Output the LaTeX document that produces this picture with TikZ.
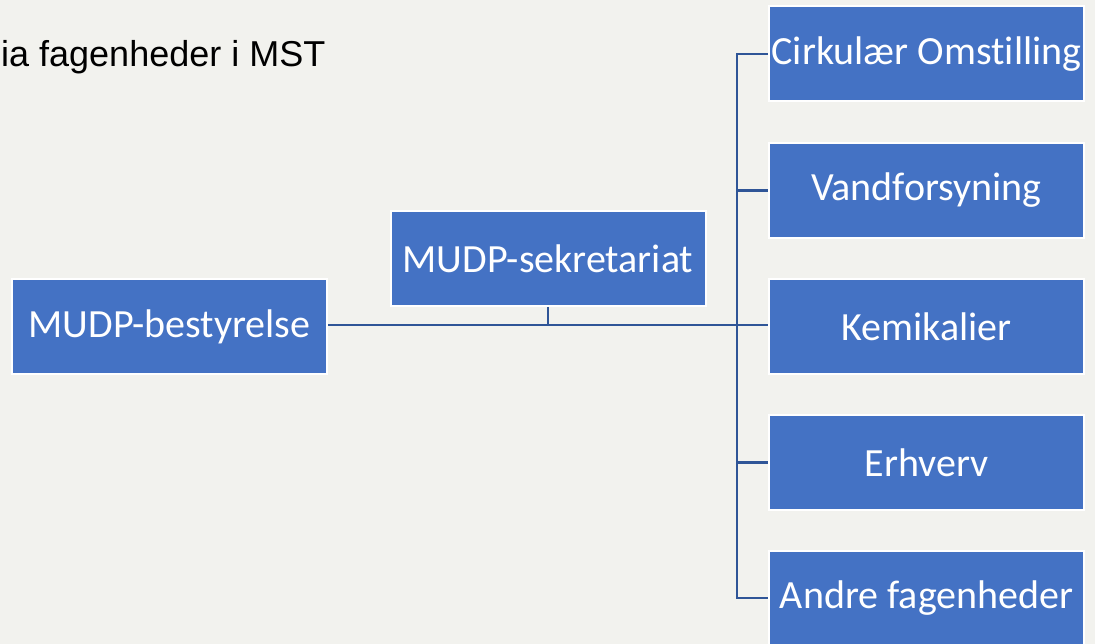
\documentclass[tikz,border=0pt]{standalone}
\usepackage{fontspec}
\setmainfont[Ligatures={NoCommon}]{Carlito}
\newfontfamily\arialfont{Liberation Sans}
\definecolor{bg}{HTML}{F2F2EE}
\definecolor{boxblue}{HTML}{4472C4}
\definecolor{linecol}{HTML}{2F5597}
\begin{document}
\begin{tikzpicture}[x=1pt,y=-1pt,
  box/.style={draw=white,line width=2pt,fill=boxblue,text=white,minimum width=315pt,minimum height=95pt,inner sep=0pt,font=\fontsize{40}{46}\selectfont},
  conn/.style={draw=linecol,line width=2.2pt}]
\fill[bg] (0,0) rectangle (1095,644);
\useasboundingbox (0,0) rectangle (1095,644);
\node[anchor=base west,font=\arialfont\fontsize{36}{42}\selectfont,inner sep=0pt] (title) at (1,67) {ia fagenheder i MST};
\node[box] (best) at (169.5,326.5) {MUDP-bestyrelse};
\node[box] (sek) at (548,258.5) {MUDP-sekretariat};
\node[box] (c1) at (926.5,54) {Cirkulær Omstilling};
\node[box] (c2) at (926.5,190.5) {Vandforsyning};
\node[box] (c3) at (926.5,326.5) {Kemikalier};
\node[box] (c4) at (926.5,462.5) {Erhverv};
\node[box] (c5) at (926.5,598) {Andre fagenheder};
\coordinate (jx) at (737,325);
\draw[conn] (best.east |- jx) -- (c3.west |- jx);
\draw[conn] (sek.south) -- (sek.south |- jx);
\draw[conn] (c1.west) -| (jx) |- (c5.west);
\draw[conn] (jx |- c2.west) -- (c2.west);
\draw[conn] (jx |- c4.west) -- (c4.west);
\end{tikzpicture}
\end{document}
